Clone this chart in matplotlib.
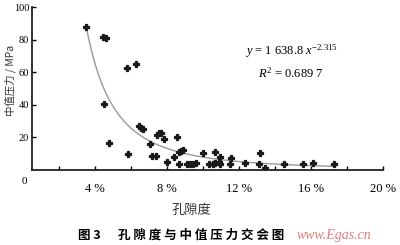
import numpy as np
import matplotlib
matplotlib.use("Agg")
import matplotlib.pyplot as plt

plt.rcParams["mathtext.fontset"] = "custom"
plt.rcParams["mathtext.it"] = "Liberation Serif:italic"
plt.rcParams["mathtext.rm"] = "Liberation Serif"

# Data (porosity in %, median pressure in MPa)
porosity = [3.53, 4.49, 4.64, 5.79, 6.31, 4.55, 4.82, 5.88, 6.45, 6.58, 6.7,
            7.49, 7.6, 7.68, 7.85, 7.08, 7.16, 7.4, 8.01, 8.42, 8.6, 8.66,
            8.82, 8.93, 8.66, 9.15, 9.3, 9.45, 9.62, 10.04, 10.66, 10.97,
            10.92, 10.97, 10.36, 10.55, 10.68, 11.57, 11.53, 12.32, 13.16,
            13.12, 13.47, 14.53, 15.54, 16.1, 17.27]
pressure = [87.6, 81.4, 81.2, 62.8, 64.9, 40.2, 16.8, 9.8, 27.0, 26.0, 25.3,
            21.2, 22.5, 22.9, 19.0, 16.0, 8.7, 8.7, 4.7, 8.2, 20.1, 10.8,
            11.7, 12.1, 3.5, 3.5, 3.5, 3.5, 4.1, 10.2, 11.0, 8.2, 5.1, 3.5,
            3.5, 3.5, 4.1, 7.6, 3.5, 4.1, 10.2, 3.5, 1.4, 3.5, 3.5, 4.1, 3.5]
fit_a = 1638.8
fit_b = -2.315
x_ticks = [2, 4, 6, 8, 10, 12, 14, 16, 18, 20]
x_labels = ["", "4 %", "", "8 %", "", "12 %", "", "16 %", "", "20 %"]
y_ticks = [20, 40, 60, 80, 100]

W, H = 400, 245
fig = plt.figure(figsize=(W / 100, H / 100), dpi=100)
ax = fig.add_axes([32 / W, 1 - 170 / H, (383 - 32) / W, (170 - 7) / H])

serif = "Liberation Serif"
cjk = ["Noto Sans CJK SC", "DejaVu Sans"]

xf = np.linspace(min(porosity), max(porosity), 200)
ax.plot(xf, fit_a * xf ** fit_b, color="#9a9a9a", lw=1.0, zorder=1)
ax.plot(porosity, pressure, linestyle="none", marker="P", markersize=4.2,
        color="#1a1a1a", markeredgewidth=0.9, markeredgecolor="#1a1a1a",
        zorder=2)

ax.set_xlim(0.53, 20)
ax.set_ylim(0, 100)
ax.spines["top"].set_visible(False)
ax.spines["right"].set_visible(False)
for s in ("left", "bottom"):
    ax.spines[s].set_linewidth(1.3)
    ax.spines[s].set_color("#222222")

ax.set_xticks(x_ticks)
ax.set_xticklabels(x_labels, fontfamily=serif, fontsize=9)
ax.set_yticks(y_ticks)
ax.set_yticklabels([str(v) for v in y_ticks], fontfamily=serif, fontsize=7.5)
ax.tick_params(axis="x", direction="in", length=3, width=1, pad=9)
ax.tick_params(axis="y", direction="in", length=3, width=1, pad=2)

def px(x, y):
    return x / W, 1 - y / H

fig.text(*px(24, 181), "0", fontfamily=serif, fontsize=8, ha="center", va="center")
fig.text(*px(10, 80), "中值压力 / MPa", family=cjk, fontsize=7.5, rotation=90,
         ha="center", va="center", color="#333333")
fig.text(*px(191, 210), "孔隙度", family=cjk, fontsize=9.5, ha="center",
         va="center", color="#333333")
fig.text(*px(291, 51), r"$y$ = 1 638.8 $x^{-2.315}$", fontfamily=serif,
         fontsize=9, ha="center", va="center")
fig.text(*px(291, 73), r"$R^2$ = 0.689 7", fontfamily=serif,
         fontsize=9, ha="center", va="center")

fig.text(*px(78, 235), "图 3", family=cjk, fontsize=9, fontweight="bold",
         ha="left", va="center")
fig.text(*px(118, 235), " ".join("孔隙度与中值压力交会图"), family=cjk,
         fontsize=9, fontweight="bold", ha="left", va="center")
fig.text(*px(297, 235), "www.Egas.cn", fontfamily=serif, fontsize=10,
         style="italic", color="#e07a7a", ha="left", va="center")

fig.savefig("out.png", dpi=100)
